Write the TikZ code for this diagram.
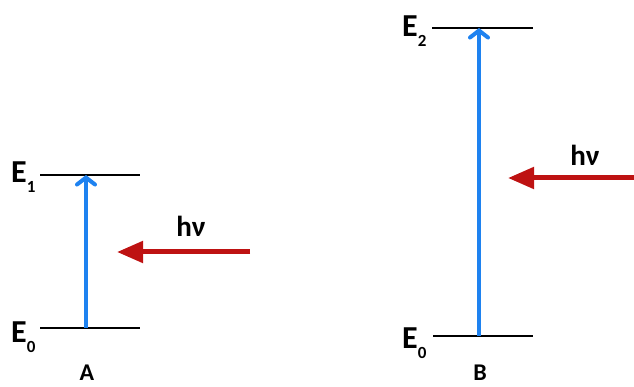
\documentclass[tikz,border=0pt]{standalone}
\usepackage{fontspec}
\setmainfont{Carlito}
\usetikzlibrary{arrows.meta,positioning}
\definecolor{excblue}{RGB}{30,130,240}
\definecolor{photred}{RGB}{190,18,18}
\newcommand{\elev}[1]{E\raisebox{-10pt}{\fontsize{17}{17}\selectfont #1}}
\tikzset{
  lvl/.style={black, line width=2.2pt},
  exc/.style={-{Straight Barb[length=7pt, width=18pt, line cap=round]}, excblue, line width=4pt},
  phot/.style={-{Triangle[length=26pt, width=21pt]}, photred, line width=5pt},
  elab/.style={anchor=base west, inner sep=0pt, font=\bfseries\fontsize{32}{32}\selectfont},
  plab/.style={inner sep=0pt, font=\bfseries\fontsize{29}{29}\selectfont},
  clab/.style={inner sep=0pt, font=\bfseries\fontsize{24}{24}\selectfont},
}

\begin{document}
\begin{tikzpicture}[x=1pt, y=-1pt]
  \useasboundingbox (0,0) rectangle (634,387);
  % panel A
  \coordinate (a0l) at (40,328); \coordinate (a0r) at (140,328);
  \coordinate (a1l) at (40,175); \coordinate (a1r) at (140,175);
  \coordinate (a0m) at (86,328); \coordinate (a1m) at (86,175);
  \draw[lvl] (a0l) -- (a0r);
  \draw[lvl] (a1l) -- (a1r);
  \draw[exc] (a0m) -- (a1m);
  \coordinate (aps) at (250,252); \coordinate (ape) at (117,252);
  \draw[phot] (aps) -- (ape);
  \node[plab] (ahv) at (191,226) {hν};
  \node[elab] (ae1) at (11,183) {\elev{1}};
  \node[elab] (ae0) at (11,342) {\elev{0}};
  \node[clab] (acap) at (87,373) {A};
  % panel B
  \coordinate (b0l) at (433,336); \coordinate (b0r) at (533,336);
  \coordinate (b2l) at (432,28); \coordinate (b2r) at (533,28);
  \coordinate (b0m) at (479,336); \coordinate (b2m) at (479,28);
  \draw[lvl] (b0l) -- (b0r);
  \draw[lvl] (b2l) -- (b2r);
  \draw[exc] (b0m) -- (b2m);
  \coordinate (bps) at (636,178); \coordinate (bpe) at (508,178);
  \draw[phot] (bps) -- (bpe);
  \node[plab] (bhv) at (585,155) {hν};
  \node[elab] (be2) at (402,37) {\elev{2}};
  \node[elab] (be0) at (402,348) {\elev{0}};
  \node[clab] (bcap) at (480,373) {B};
\end{tikzpicture}
\end{document}
